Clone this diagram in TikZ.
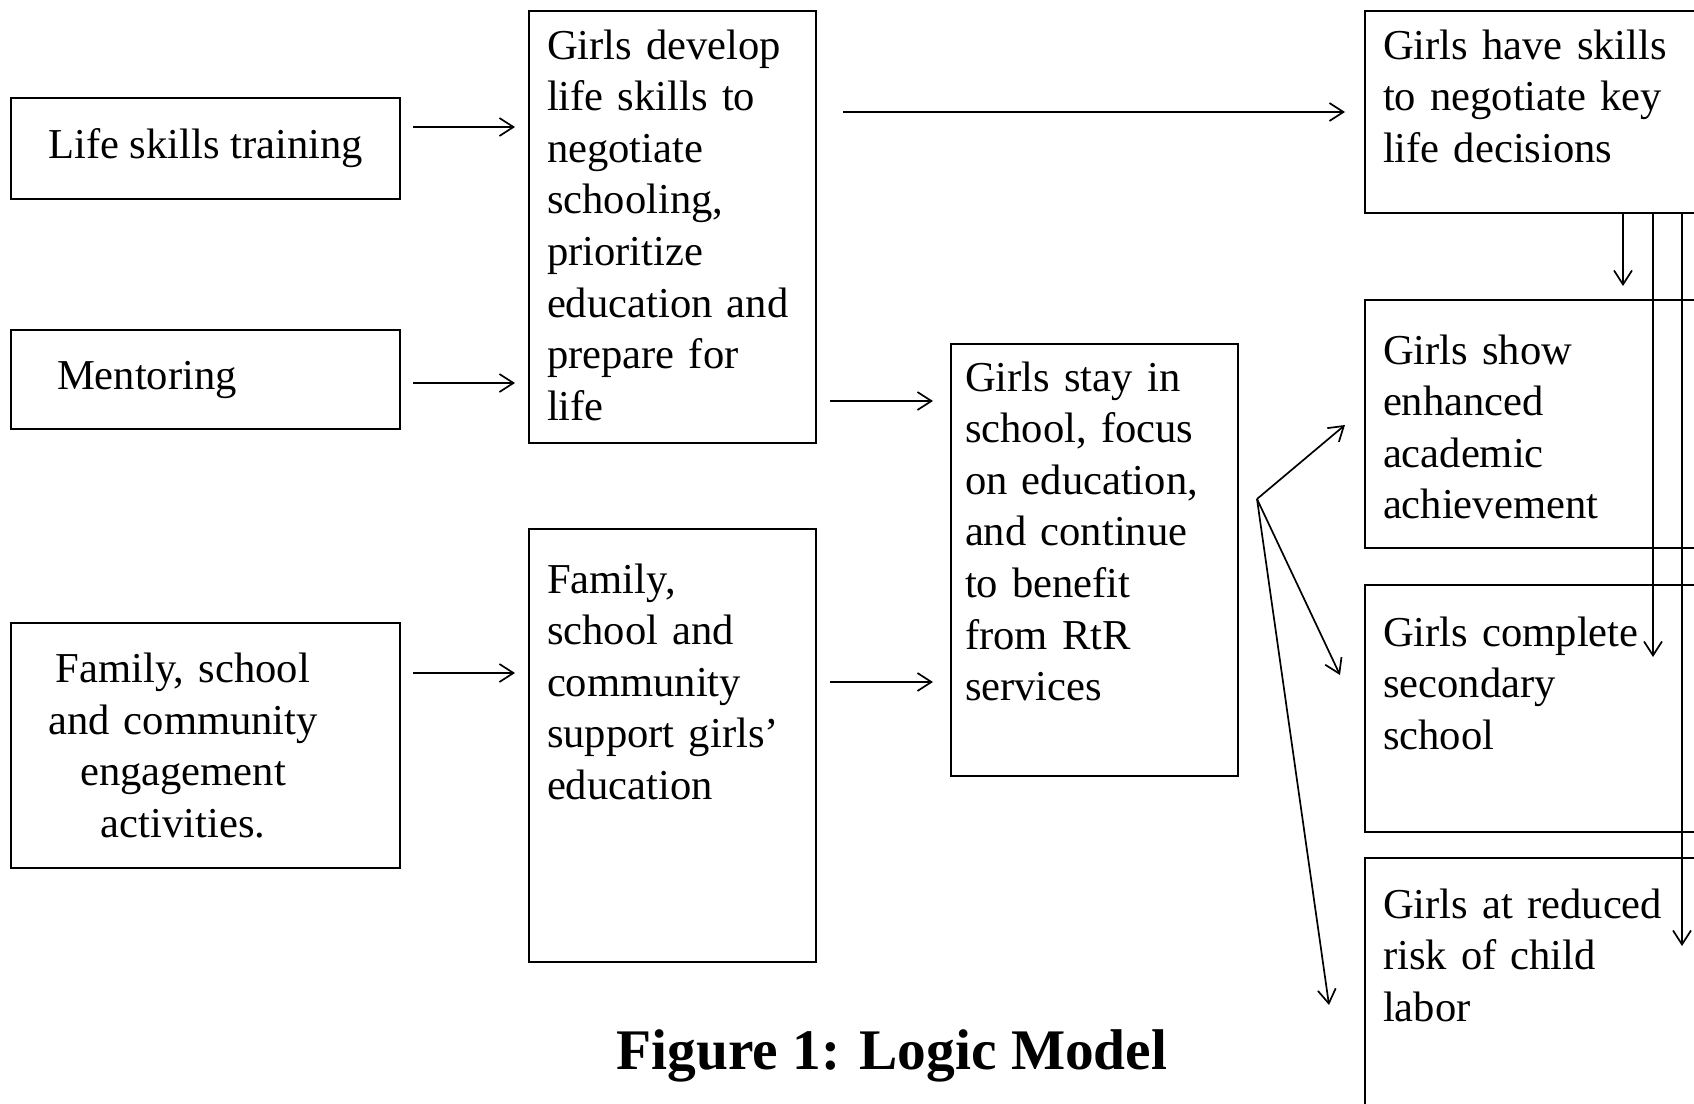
\documentclass[tikz,border=0pt]{standalone}
\usepackage{fontspec}
\setmainfont{Liberation Serif}
\usetikzlibrary{arrows.meta, calc}
\newcommand{\boxfont}{\fontsize{21.3}{25.8}\selectfont}
\tikzset{
	inbox/.style={draw, line width=1pt, anchor=north west, inner sep=0pt, outer sep=0pt, align=center, font=\boxfont, minimum width=194.5pt}, % boxes of the first column
	outbox/.style={draw, line width=1pt, anchor=north west, inner xsep=9pt, inner ysep=0pt, outer sep=0pt, align=left, font=\boxfont}, % text starts at the top
	arr/.style={line width=0.85pt, -{Straight Barb[length=7pt,width=9pt]}}, % thin arrow with open head
}

\begin{document}
\begin{tikzpicture}[x=0.5pt, y=-0.5pt]
	\useasboundingbox (0,0) rectangle (1694,1104);
	\clip (0,0) rectangle (1694,1104);
	% activities
	\node[inbox, minimum height=50.5pt] (life) at (11,98) {Life skills training};
	\node[inbox, minimum height=49.5pt, text width=148.5pt, inner xsep=23pt, align=left] (mentor) at (11,330) {Mentoring};
	\node[inbox, minimum height=122.5pt, text width=170pt] (engage) at (11,623) {\leftskip=0pt plus 1fil\rightskip=22.5pt plus 1fil\parfillskip=0pt\relax Family, school\\and community\\engagement\\activities.\hspace*{22.5pt}\mbox{}};
	% short term outcomes
	\node[outbox, text width=125.5pt, text height=24pt, text depth=192pt] (develop) at (529,11) {Girls develop\\life skills to\\negotiate\\schooling,\\prioritize\\education and\\prepare for\\life};
	\node[outbox, text width=125.5pt, text height=32pt, text depth=184.5pt] (support) at (529,529) {Family,\\school and\\community\\support girls'\\education};
	\node[outbox, inner xsep=7pt, text width=129.5pt, text height=23.5pt, text depth=192.5pt] (stay) at (951,344) {Girls stay in\\school, focus\\on education,\\and continue\\to benefit\\from RtR\\services};
	% long term outcomes
	\node[outbox, text width=159.5pt, text height=24pt, text depth=77pt] (have) at (1365,11) {Girls have skills\\to negotiate key\\life decisions};
	\node[outbox, text width=159.5pt, text height=32pt, text depth=92pt] (show) at (1365,300) {Girls show\\enhanced\\academic\\achievement};
	\node[outbox, text width=159.5pt, text height=30.5pt, text depth=93pt] (complete) at (1365,585) {Girls complete\\secondary\\school};
	\node[outbox, text width=159.5pt, text height=30pt, text depth=106pt] (reduced) at (1365,858) {Girls at reduced\\risk of child\\labor};
	\node[font=\fontsize{28.7}{34}\selectfont\bfseries, anchor=base] (title) at (892,1069) {Figure 1: Logic Model};

	\draw[arr] ($(life.east)+(13,-21.5)$) -- ($(life.east -| develop.west)+(-14,-21.5)$);
	\draw[arr] ($(mentor.east)+(13,3.5)$) -- ($(mentor.east -| develop.west)+(-14,3.5)$);
	\draw[arr] ($(engage.east)+(13,-72.5)$) -- ($(engage.east -| support.west)+(-14,-72.5)$);
	\draw[arr] ($(develop.east |- have.west)+(27,0)$) -- ($(have.west)+(-20,0)$);
	\draw[arr] ($(develop.south east)+(14,-42)$) -- ($(stay.north west)+(-18,57)$);
	\draw[arr] ($(support.east)+(14,-63.5)$) -- ($(stay.west)+(-18,122)$);
	% fan out to the outcomes
	\coordinate (fan) at ($(stay.east)+(19,-61)$);
	\draw[arr] (fan) -- ($(show.west)+(-20,1)$);
	\draw[arr] (fan) -- ($(complete.west)+(-25,-33.5)$);
	\draw[arr] (fan) -- ($(reduced.north west)+(-36,147)$);
	% from the top box down
	\draw[arr] ($(have.south west)+(258,0)$) -- ($(show.north west)+(258,-14)$);
	\draw[arr] ($(have.south west)+(288,0)$) -- ($(complete.north west)+(288,72)$);
	\draw[arr] ($(have.south west)+(317,0)$) -- ($(reduced.north west)+(317,88)$);
\end{tikzpicture}
\end{document}
